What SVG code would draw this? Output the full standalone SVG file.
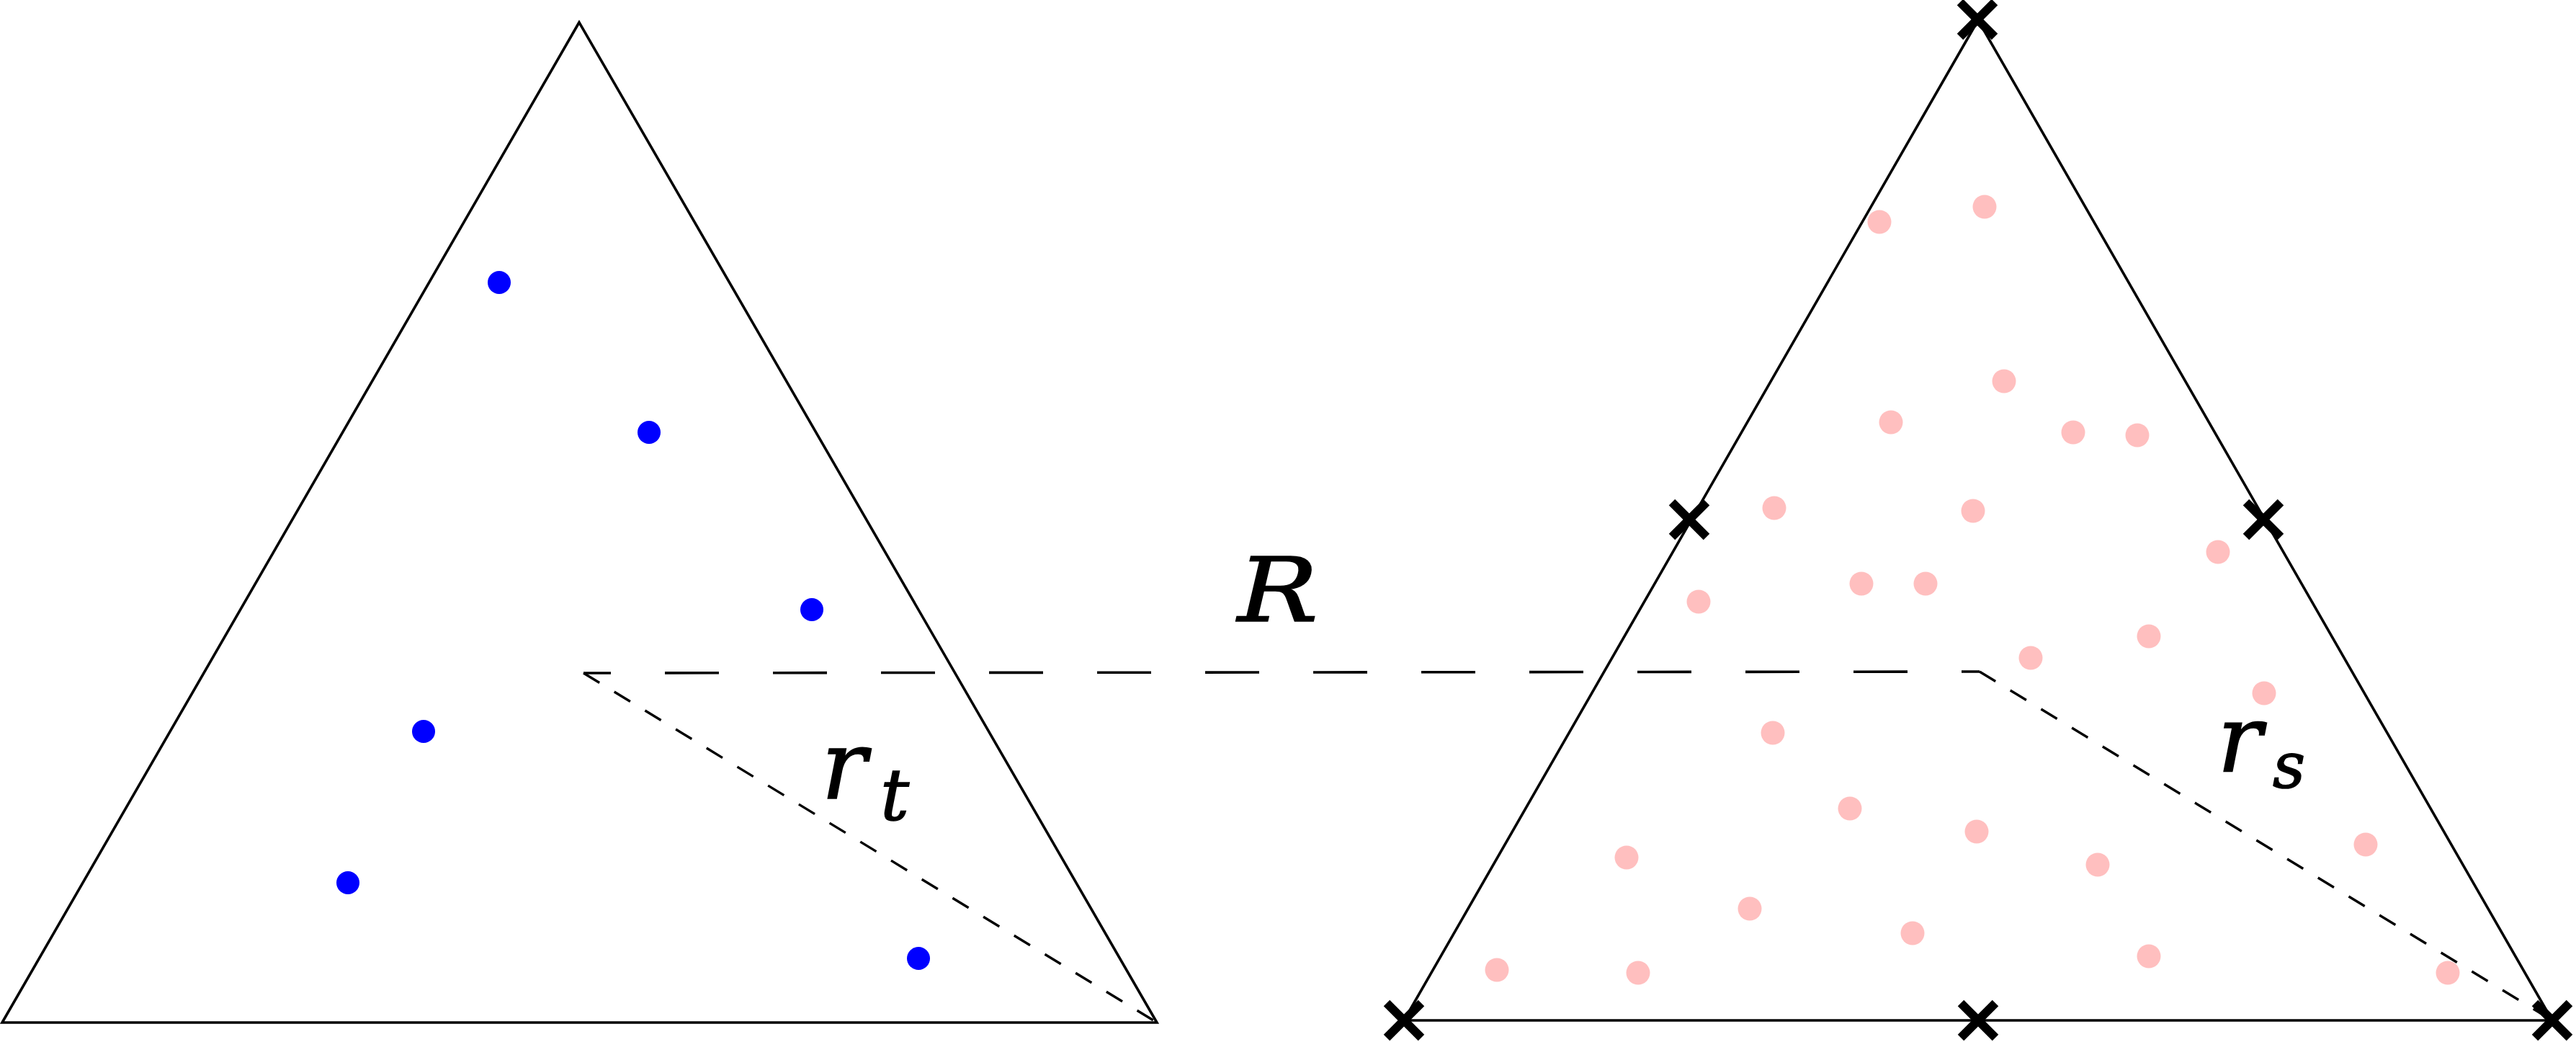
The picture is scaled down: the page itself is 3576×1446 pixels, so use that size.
<svg xmlns="http://www.w3.org/2000/svg" width="3576" height="1446" viewBox="0 0 3576 1446">
<style>
.edge{fill:none;stroke:#000;stroke-width:3.6;stroke-linejoin:miter}
.dashR{fill:none;stroke:#000;stroke-width:3.6;stroke-dasharray:75 75}
.dashr{fill:none;stroke:#000;stroke-width:3.4;stroke-dasharray:26 24}
.blue{fill:#0000ff}
.pink{fill:#ffbfbf}
.x{stroke:#000;stroke-width:12;stroke-linecap:butt}
.lbl{font-family:"DejaVu Serif","Liberation Serif",serif;font-style:italic;fill:#000;stroke:#000;stroke-width:1.5}
</style>
<defs>
<g id="cross"><line class="x" x1="-24" y1="-24" x2="24" y2="24"/><line class="x" x1="-24" y1="24" x2="24" y2="-24"/></g>
</defs>
<rect width="3576" height="1446" fill="#fff"/>
<g id="triangle-target">
<polygon class="edge" points="804,31 3,1419 1606,1419"/>
<circle class="blue" cx="693" cy="392" r="16"/>
<circle class="blue" cx="901" cy="600" r="16"/>
<circle class="blue" cx="1127" cy="846" r="16"/>
<circle class="blue" cx="588" cy="1015" r="16"/>
<circle class="blue" cx="483" cy="1225" r="16"/>
<circle class="blue" cx="1275" cy="1330" r="16"/>
</g>
<g id="triangle-source">
<polygon class="edge" points="2746,28 1949,1416 3543,1416"/>
<g class="pink">
<circle cx="2609" cy="308" r="16.5"/>
<circle cx="2755" cy="287" r="16.5"/>
<circle cx="2782" cy="529" r="16.5"/>
<circle cx="2625" cy="586" r="16.5"/>
<circle cx="2878" cy="600" r="16.5"/>
<circle cx="2967" cy="604" r="16.5"/>
<circle cx="2463" cy="705" r="16.5"/>
<circle cx="2739" cy="709" r="16.5"/>
<circle cx="3079" cy="766" r="16.5"/>
<circle cx="2584" cy="810" r="16.5"/>
<circle cx="2673" cy="810" r="16.5"/>
<circle cx="2358" cy="835" r="16.5"/>
<circle cx="2983" cy="883" r="16.5"/>
<circle cx="2819" cy="913" r="16.5"/>
<circle cx="3143" cy="962" r="16.5"/>
<circle cx="2461" cy="1017" r="16.5"/>
<circle cx="2568" cy="1122" r="16.5"/>
<circle cx="2744" cy="1154" r="16.5"/>
<circle cx="3284" cy="1172" r="16.5"/>
<circle cx="2258" cy="1190" r="16.5"/>
<circle cx="2912" cy="1200" r="16.5"/>
<circle cx="2429" cy="1261" r="16.5"/>
<circle cx="2655" cy="1295" r="16.5"/>
<circle cx="2983" cy="1327" r="16.5"/>
<circle cx="2078" cy="1346" r="16.5"/>
<circle cx="2274" cy="1350" r="16.5"/>
<circle cx="3398" cy="1350" r="16.5"/>
</g>
<use href="#cross" x="2745" y="27"/>
<use href="#cross" x="2345" y="721"/>
<use href="#cross" x="3142" y="721"/>
<use href="#cross" x="1949" y="1416"/>
<use href="#cross" x="2746" y="1416"/>
<use href="#cross" x="3543" y="1416"/>
</g>
<g id="connectors">
<line class="dashR" x1="810" y1="934" x2="2748" y2="932" stroke-dashoffset="37"/>
<line class="dashr" x1="810" y1="934" x2="1606" y2="1419"/>
<line class="dashr" x1="2748" y1="932" x2="3543" y2="1416"/>
</g>
<g id="labels">
<text class="lbl" x="1718" y="862" font-size="124" textLength="112" lengthAdjust="spacingAndGlyphs">R</text>
<text class="lbl" x="1140" y="1108" font-size="132">r</text>
<text class="lbl" x="1222" y="1138" font-size="100">t</text>
<text class="lbl" x="3078" y="1070" font-size="130">r</text>
<text class="lbl" x="3155" y="1093" font-size="88">s</text>
</g>
</svg>
